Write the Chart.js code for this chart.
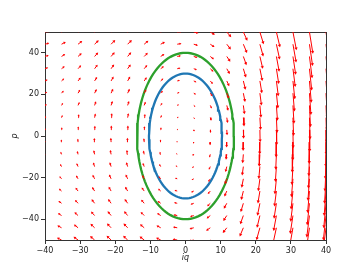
<!DOCTYPE html>
<html>
<head>
<meta charset="utf-8">
<script src="https://cdn.jsdelivr.net/npm/chart.js@4.4.0/dist/chart.umd.min.js"></script>
<style>
  html, body { margin: 0; padding: 0; background: #fff; }
</style>
</head>
<body>
<canvas id="myChart" width="362" height="271"></canvas>
<script>
const qGrid = [-40, -35.29, -30.59, -25.88, -21.18, -16.47, -11.76, -7.06, -2.35, 2.35, 7.06, 11.76, 16.47, 21.18, 25.88, 30.59, 35.29, 40];
const pGrid = [-50, -44.12, -38.24, -32.35, -26.47, -20.59, -14.71, -8.82, -2.94, 2.94, 8.82, 14.71, 20.59, 26.47, 32.35, 38.24, 44.12, 50];
// horizontal arrow component, one per row (p)
const uByRow = [-0.91, -0.83, -0.71, -0.6, -0.49, -0.39, -0.27, -0.17, -0.06, 0.06, 0.17, 0.27, 0.39, 0.49, 0.6, 0.71, 0.83, 0.91];
// vertical arrow component, one per column (iq)
const vByCol = [0.38, 0.77, 1.1, 1.34, 1.44, 1.44, 1.2, 0.77, 0.24, -0.38, -0.96, -1.82, -3.36, -5.04, -6.48, -7.92, -9.6, -11.04];
const ellipseA = [10.4, 13.8];
const ellipseB = [30, 40];
const ellipseColors = ['#1f77b4', '#2ca02c'];
const xTicks = [-40, -30, -20, -10, 0, 10, 20, 30, 40];
const yTicks = [-40, -20, 0, 20, 40];

Chart.defaults.font.family = 'DejaVu Sans';
Chart.defaults.font.size = 8;
Chart.defaults.color = '#222';

// arrows: tail -> tip
const arrows = [];
pGrid.forEach((p, j) => {
    qGrid.forEach((q, i) => {
        arrows.push({x0: q, y0: p, x1: q + uByRow[j], y1: p + vByCol[i]});
    });
});

const shafts = [];
arrows.forEach(a => {
    shafts.push({x: a.x0, y: a.y0}, {x: a.x1, y: a.y1}, {x: null, y: null});
});
const tips = arrows.map(a => ({x: a.x1, y: a.y1}));

function arrowPx(ctx) {
    const s = ctx.chart.scales;
    const a = arrows[ctx.dataIndex];
    if (!a) return {dx: 0, dy: 0, len: 0};
    const dx = s.x.getPixelForValue(a.x1) - s.x.getPixelForValue(a.x0);
    const dy = s.y.getPixelForValue(a.y1) - s.y.getPixelForValue(a.y0);
    return {dx: dx, dy: dy, len: Math.hypot(dx, dy)};
}

function ellipsePoints(a, b) {
    const pts = [];
    for (let k = 0; k <= 120; k++) {
        const t = k / 120 * 2 * Math.PI;
        pts.push({x: a * Math.cos(t), y: b * Math.sin(t)});
    }
    return pts;
}

const minusFmt = v => v < 0 ? '\u2212' + Math.abs(v) : String(v);
const spine = '#333';

const ctx = document.getElementById('myChart').getContext('2d');
const myChart = new Chart(ctx, {
    type: 'scatter',
    data: {
        datasets: [
            {
                data: shafts,
                showLine: true,
                spanGaps: false,
                borderColor: '#ff0000',
                borderWidth: 1,
                pointRadius: 0
            },
            {
                data: tips,
                pointStyle: 'triangle',
                backgroundColor: '#ff0000',
                borderWidth: 0,
                pointRadius: c => Math.min(1.9, 0.5 + arrowPx(c).len * 0.3),
                pointRotation: c => {
                    const d = arrowPx(c);
                    return Math.atan2(d.dx, -d.dy) * 180 / Math.PI;
                }
            },
            {
                data: ellipsePoints(ellipseA[0], ellipseB[0]),
                showLine: true,
                borderColor: ellipseColors[0],
                borderWidth: 2.3,
                pointRadius: 0
            },
            {
                data: ellipsePoints(ellipseA[1], ellipseB[1]),
                showLine: true,
                borderColor: ellipseColors[1],
                borderWidth: 2.3,
                pointRadius: 0
            }
        ]
    },
    options: {
        responsive: false,
        animation: false,
        layout: {padding: {left: 0, right: 36, top: 32, bottom: 0}},
        plugins: {legend: {display: false}, tooltip: {enabled: false}},
        scales: {
            x: {
                type: 'linear',
                min: -40, max: 40,
                afterBuildTicks: s => { s.ticks = xTicks.map(v => ({value: v})); },
                afterFit: s => { s.height = 31; },
                ticks: {callback: minusFmt, padding: 2, maxRotation: 0},
                grid: {drawOnChartArea: false, tickLength: 4, tickColor: spine},
                border: {color: spine, width: 1},
                title: {display: true, text: 'iq', font: {style: 'italic', size: 8}, padding: {top: 0, bottom: 8}}
            },
            y: {
                type: 'linear',
                min: -50, max: 50,
                afterBuildTicks: s => { s.ticks = yTicks.map(v => ({value: v})); },
                afterFit: s => { s.width = 45; },
                ticks: {callback: minusFmt, padding: 2},
                grid: {drawOnChartArea: false, tickLength: 4, tickColor: spine},
                border: {color: spine, width: 1},
                title: {display: true, text: 'p', font: {style: 'italic', size: 8}, padding: {top: 10, bottom: 0}}
            },
            xTop: {
                type: 'linear', position: 'top', min: -40, max: 40,
                afterFit: s => { s.height = 0; },
                ticks: {display: false},
                grid: {display: false},
                border: {color: spine, width: 1}
            },
            yRight: {
                type: 'linear', position: 'right', min: -50, max: 50,
                afterFit: s => { s.width = 0; },
                ticks: {display: false},
                grid: {display: false},
                border: {color: spine, width: 1}
            }
        }
    }
});
</script>
</body>
</html>
